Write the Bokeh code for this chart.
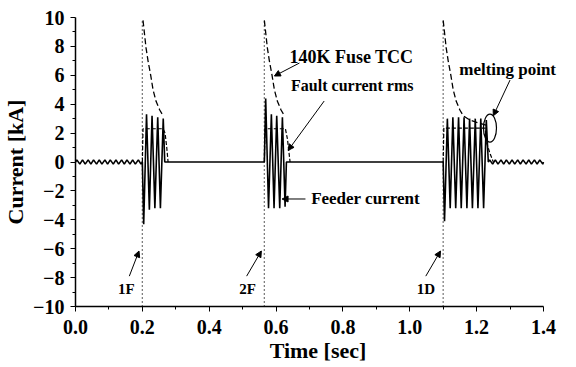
from bokeh.plotting import figure
from bokeh.models import FixedTicker, PrintfTickFormatter, Label, Arrow, NormalHead, Range1d
from bokeh.embed import file_html
from bokeh.resources import INLINE

# ---- axes ----
x_ticks = [0.0, 0.2, 0.4, 0.6, 0.8, 1.0, 1.2, 1.4]
x_minor = [0.1, 0.3, 0.5, 0.7, 0.9, 1.1, 1.3]
y_ticks = [-10, -8, -6, -4, -2, 0, 2, 4, 6, 8, 10]
y_minor = [-9, -7, -5, -3, -1, 1, 3, 5, 7, 9]

# ---- fault instants ----
fault_times = [0.2, 0.565, 1.1]
fault_names = ["1F", "2F", "1D"]

# ---- feeder current (peaks / troughs) ----
t_pre = [0.000, 0.004, 0.013, 0.021, 0.029, 0.038, 0.046, 0.054, 0.063, 0.071, 0.079, 0.088, 0.096,
         0.104, 0.113, 0.121, 0.129, 0.138, 0.146, 0.154, 0.163, 0.171, 0.179, 0.188, 0.196, 0.200]
i_pre = [0.0, 0.15, -0.15, 0.15, -0.15, 0.15, -0.15, 0.15, -0.15, 0.15, -0.15, 0.15, -0.15,
         0.15, -0.15, 0.15, -0.15, 0.15, -0.15, 0.15, -0.15, 0.15, -0.15, 0.15, -0.15, 0.0]

t_1f = [0.200, 0.204, 0.2125, 0.221, 0.229, 0.2375, 0.246, 0.254, 0.2625, 0.267]
i_1f = [0.0, -4.3, 3.3, -3.3, 3.2, -3.2, 3.1, -3.2, 3.0, 0.0]

t_2f = [0.565, 0.569, 0.5775, 0.586, 0.594, 0.602, 0.611, 0.619, 0.627, 0.631]
i_2f = [0.0, 4.4, -3.2, 3.3, -3.2, 3.2, -3.2, 3.1, -3.1, 0.0]

t_1d = [1.100, 1.104, 1.1125, 1.121, 1.129, 1.1375, 1.146, 1.154, 1.1625, 1.171, 1.179, 1.1875,
        1.196, 1.204, 1.2125, 1.221, 1.229, 1.235]
i_1d = [0.0, -4.1, 3.0, -3.2, 3.1, -3.2, 3.1, -3.2, 3.1, -3.2, 3.0, -3.2,
        3.0, -3.2, 3.0, -3.2, 2.9, 0.0]

t_post = [1.235, 1.239, 1.248, 1.256, 1.264, 1.273, 1.281, 1.289, 1.298, 1.306, 1.314,
          1.323, 1.331, 1.339, 1.348, 1.356, 1.364, 1.373, 1.381, 1.389, 1.398, 1.400]
i_post = [0.0, 0.15, -0.15, 0.15, -0.15, 0.15, -0.15, 0.15, -0.15, 0.15, -0.15,
          0.15, -0.15, 0.15, -0.15, 0.15, -0.15, 0.15, -0.15, 0.15, -0.15, 0.0]

# ---- fault current rms ----
t_rms_1f = [0.200, 0.202, 0.262, 0.268, 0.273, 0.277]
i_rms_1f = [0.0, 2.3, 2.3, 2.0, 1.0, 0.0]
t_rms_2f = [0.565, 0.567, 0.628, 0.634, 0.638, 0.642]
i_rms_2f = [0.0, 2.3, 2.3, 1.6, 0.8, 0.0]
t_rms_1d = [1.100, 1.102, 1.226, 1.229, 1.240, 1.250]
i_rms_1d = [0.0, 2.35, 2.35, 1.4, 0.6, 0.0]

# ---- 140K fuse TCC ----
t_tcc_1f = [0.202, 0.211, 0.217, 0.225, 0.232, 0.241, 0.252, 0.262]
i_tcc_1f = [9.8, 7.9, 7.0, 6.0, 5.0, 4.2, 3.6, 3.2]
t_tcc_2f = [0.565, 0.574, 0.580, 0.588, 0.595, 0.604, 0.615, 0.625]
i_tcc_2f = [9.8, 7.9, 7.0, 6.0, 5.0, 4.2, 3.6, 3.2]
t_tcc_1d = [1.100, 1.109, 1.115, 1.123, 1.130, 1.139, 1.150, 1.160, 1.180, 1.200, 1.220, 1.235]
i_tcc_1d = [9.8, 7.9, 7.0, 6.0, 5.0, 4.2, 3.6, 3.2, 2.9, 2.75, 2.6, 2.5]

# melting point
melt_t = 1.24
melt_i = 2.35

FONT = "Liberation Serif"

p = figure(width=560, height=366, x_range=Range1d(0, 1.451), y_range=Range1d(-10, 10),
           output_backend="svg", toolbar_location=None,
           min_border_left=71, min_border_right=0, min_border_top=17, min_border_bottom=60,
           x_axis_label="Time [sec]", y_axis_label="Current [kA]")
p.outline_line_color = None
p.grid.visible = False
p.background_fill_color = "white"

p.xaxis.ticker = FixedTicker(ticks=x_ticks, minor_ticks=x_minor)
p.xaxis.formatter = PrintfTickFormatter(format="%.1f")
p.xaxis.bounds = (0, 1.4)
p.yaxis.ticker = FixedTicker(ticks=y_ticks, minor_ticks=y_minor)
for ax in (p.xaxis, p.yaxis):
    ax.axis_line_width = 1.5
    ax.axis_line_color = "black"
    ax.major_tick_line_color = "black"
    ax.minor_tick_line_color = "black"
    ax.major_tick_in = 0
    ax.major_tick_out = 5
    ax.minor_tick_in = 0
    ax.minor_tick_out = 3
    ax.major_label_text_font = FONT
    ax.major_label_text_font_style = "bold"
    ax.major_label_text_font_size = "20px"
    ax.major_label_text_color = "black"
    ax.axis_label_text_font = FONT
    ax.axis_label_text_font_style = "bold"
    ax.axis_label_text_font_size = "22px"
    ax.axis_label_text_color = "black"
p.xaxis.major_label_standoff = 8
p.xaxis.axis_label_standoff = 1
p.yaxis.major_label_standoff = 6
p.yaxis.axis_label_standoff = 2

# feeder current
t_all = t_pre + t_1f + t_2f + t_1d + t_post
i_all = i_pre + i_1f + i_2f + i_1d + i_post
p.line(t_all, i_all, line_color="black", line_width=1.6)

# rms and TCC (dashed)
for tt, ii in ((t_rms_1f, i_rms_1f), (t_rms_2f, i_rms_2f), (t_rms_1d, i_rms_1d)):
    p.line(tt, ii, line_color="black", line_width=1.2, line_dash="4 2")
for tt, ii in ((t_tcc_1f, i_tcc_1f), (t_tcc_2f, i_tcc_2f), (t_tcc_1d, i_tcc_1d)):
    p.line(tt, ii, line_color="black", line_width=1.3, line_dash="6 3")

# fault instants (dotted)
p.segment(x0=fault_times, y0=[-10] * 3, x1=fault_times, y1=[9.8] * 3,
          line_color="black", line_width=1.3, line_dash="1 3")

# melting point ellipse
p.ellipse(x=[melt_t], y=[melt_i], width=0.039, height=1.94,
          fill_alpha=0, line_color="black", line_width=1.2)

def label(x, y, text, size="15px", align="left"):
    p.add_layout(Label(x=x, y=y, text=text, text_font=FONT, text_font_style="bold",
                       text_font_size=size, text_align=align, text_baseline="middle",
                       text_color="black"))

def arrow(x0, y0, x1, y1):
    p.add_layout(Arrow(end=NormalHead(size=6, fill_color="black", line_color="black"),
                       x_start=x0, y_start=y0, x_end=x1, y_end=y1,
                       line_color="black", line_width=1))

label(0.64, 7.3, "140K Fuse TCC", size="18px")
arrow(0.67, 6.85, 0.595, 5.95)
label(0.645, 5.3, "Fault current rms", size="16px")
arrow(0.744, 4.22, 0.636, 0.8)
label(0.705, -2.56, "Feeder current", size="17px")
arrow(0.688, -2.56, 0.618, -2.56)
label(1.148, 6.4, "melting point", size="17px")
arrow(1.30, 5.67, 1.25, 3.2)

name_t = [0.152, 0.515, 1.048]
name_arrow_t0 = [0.161, 0.512, 1.048]
name_arrow_t1 = [0.19, 0.556, 1.092]
for nm, xt, a0, a1 in zip(fault_names, name_t, name_arrow_t0, name_arrow_t1):
    label(xt, -8.8, nm, size="15px", align="center")
    arrow(a0, -7.9, a1, -6.16)

open("out.html", "w").write(file_html(p, INLINE))
